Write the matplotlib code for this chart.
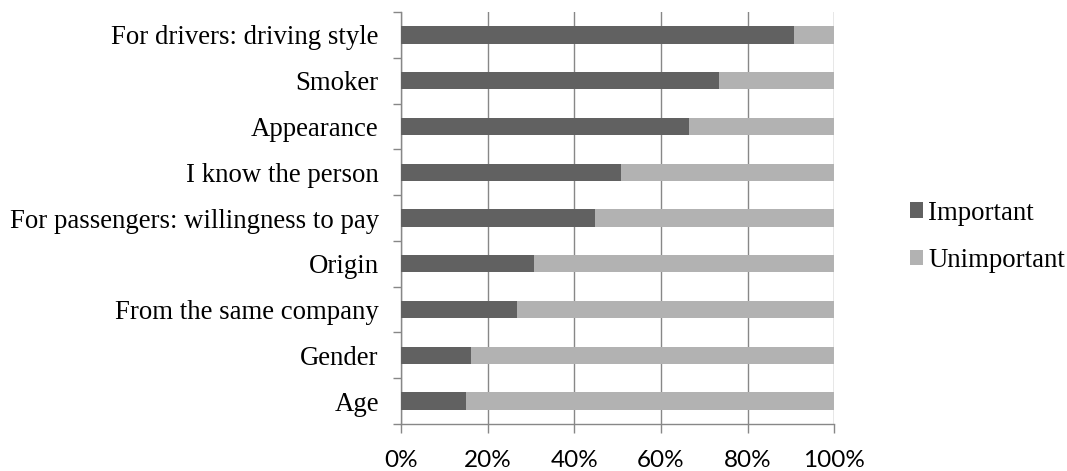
import numpy as np
import matplotlib.pyplot as plt
from matplotlib.ticker import FixedLocator, PercentFormatter

# -----------------------------
# Data (bottom to top)
# -----------------------------
categories = [
    "Age",
    "Gender",
    "From the same company",
    "Origin",
    "For passengers: willingness to pay",
    "I know the person",
    "Appearance",
    "Smoker",
    "For drivers: driving style",
]
important = [14.9, 16.1, 26.7, 30.6, 44.8, 50.7, 66.4, 73.5, 90.7]
unimportant = [100 - v for v in important]
xticks = [0, 20, 40, 60, 80, 100]

dark = "#616161"
light = "#b2b2b2"
grid_c = "#878787"

# -----------------------------
# Plot
# -----------------------------
fig = plt.figure(figsize=(10.67, 4.71), dpi=100)
ax = fig.add_axes([0.3758, 0.0998, 0.4061, 0.8747])

y = np.arange(len(categories))
ax.barh(y, important, height=0.38, color=dark, label="Important", zorder=3)
ax.barh(y, unimportant, left=important, height=0.38, color=light,
        label="Unimportant", zorder=3)

ax.set_xlim(0, 100)
ax.set_ylim(-0.5, len(categories) - 0.5)

ax.set_xticks(xticks)
ax.xaxis.set_major_formatter(PercentFormatter(decimals=0))
for lab in ax.get_xticklabels():
    lab.set_fontfamily("Lato")
    lab.set_fontsize(17.5)
ax.tick_params(axis="x", length=6.5, width=1, color=grid_c, pad=12)
ax.grid(axis="x", color=grid_c, linewidth=1, zorder=0)

ax.set_yticks(y)
ax.set_yticklabels(categories, fontfamily="Liberation Serif", fontsize=19.3)
ax.tick_params(axis="y", which="major", length=0, pad=16)
ax.yaxis.set_minor_locator(FixedLocator(np.arange(-0.5, len(categories), 1)))
ax.tick_params(axis="y", which="minor", length=6, width=1, color=grid_c)

for side in ["top", "right"]:
    ax.spines[side].set_visible(False)
for side in ["left", "bottom"]:
    ax.spines[side].set_color(grid_c)
    ax.spines[side].set_linewidth(1)

fig.legend(loc="center left", bbox_to_anchor=(0.83, 0.497), frameon=False,
           prop={"family": "Liberation Serif", "size": 19.3},
           handlelength=0.5, handleheight=0.5, handletextpad=0.2,
           labelspacing=0.85)

fig.savefig("out.png", dpi=100)
